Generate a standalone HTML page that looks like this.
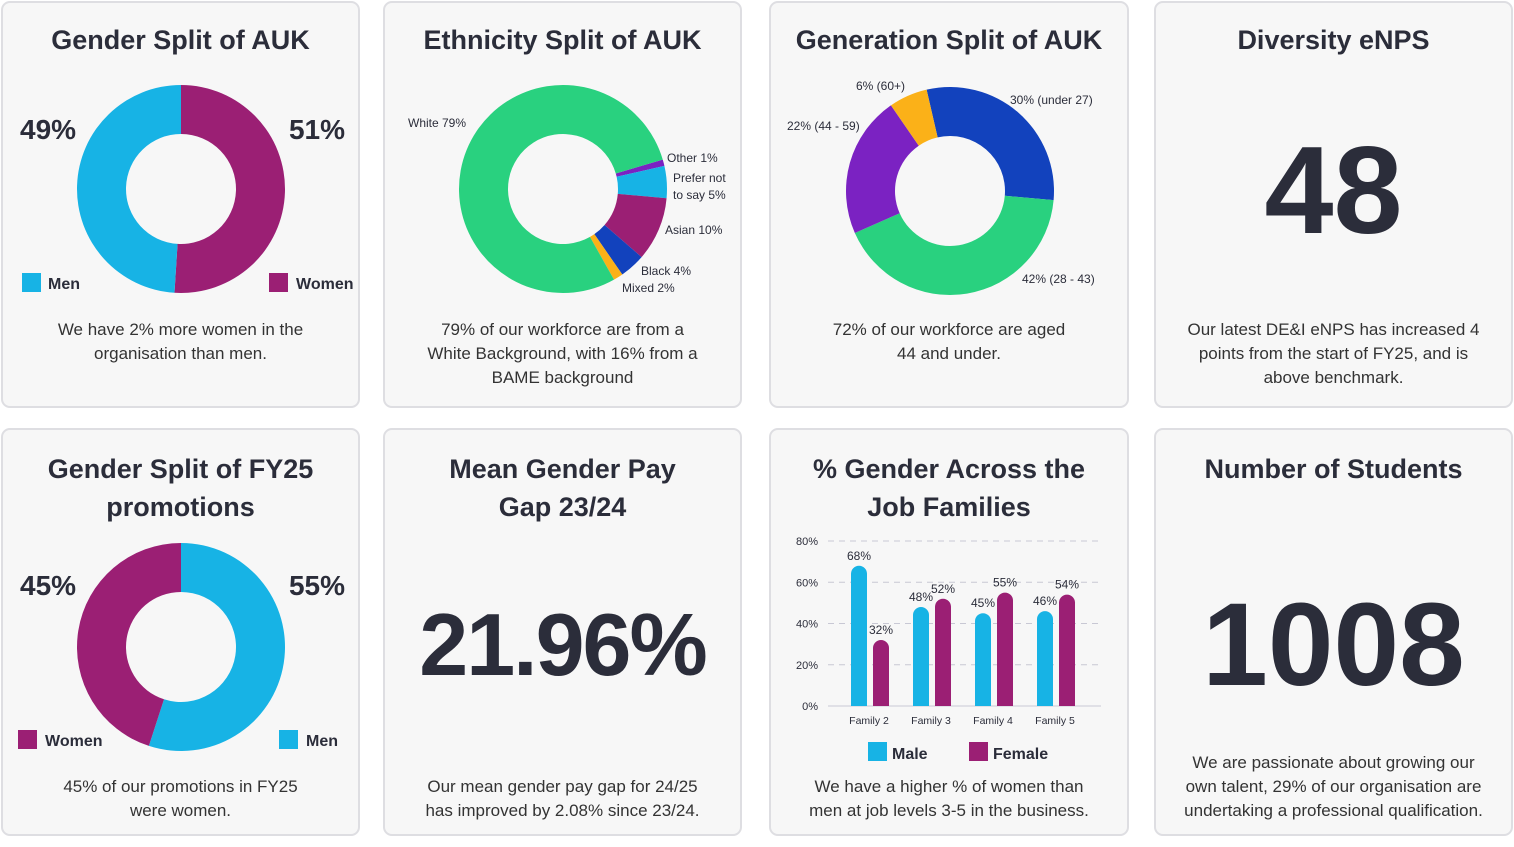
<!DOCTYPE html>
<html><head><meta charset="utf-8">
<style>
body{margin:0;width:1514px;height:847px;background:#fff;font-family:"Liberation Sans",sans-serif;color:#2b2d3a;position:relative;overflow:hidden}
.card{position:absolute;background:#f7f7f7;border:2px solid #dedee2;border-radius:9px;box-sizing:border-box}
.t{position:absolute;left:0;right:0;text-align:center;font-weight:bold;font-size:27px;line-height:38px}
.p{position:absolute;left:0;right:0;text-align:center;font-size:17px;line-height:24px;color:#333}
.big{position:absolute;left:0;right:0;text-align:center;font-weight:bold;color:#2b2d3a}
svg{position:absolute;left:0;top:0}
</style></head><body>
<div class="card" style="left:1px;top:1px;width:359px;height:407px">
 <div class="t" style="top:18px">Gender Split of AUK</div>
 <div class="p" style="top:315px">We have 2% more women in the<br>organisation than men.</div></div>
<div class="card" style="left:383px;top:1px;width:359px;height:407px">
 <div class="t" style="top:18px">Ethnicity Split of AUK</div>
 <div class="p" style="top:315px">79% of our workforce are from a<br>White Background, with 16% from a<br>BAME background</div></div>
<div class="card" style="left:769px;top:1px;width:360px;height:407px">
 <div class="t" style="top:18px">Generation Split of AUK</div>
 <div class="p" style="top:315px">72% of our workforce are aged<br>44 and under.</div></div>
<div class="card" style="left:1154px;top:1px;width:359px;height:407px">
 <div class="t" style="top:18px">Diversity eNPS</div>
 <div class="big" style="top:118px;font-size:124px;line-height:140px">48</div>
 <div class="p" style="top:315px">Our latest DE&amp;I eNPS has increased 4<br>points from the start of FY25, and is<br>above benchmark.</div></div>
<div class="card" style="left:1px;top:428px;width:359px;height:408px">
 <div class="t" style="top:20px">Gender Split of FY25<br>promotions</div>
 <div class="p" style="top:345px">45% of our promotions in FY25<br>were women.</div></div>
<div class="card" style="left:383px;top:428px;width:359px;height:408px">
 <div class="t" style="top:20px">Mean Gender Pay<br>Gap 23/24</div>
 <div class="big" style="top:160px;font-size:88px;line-height:110px;letter-spacing:-2px">21.96%</div>
 <div class="p" style="top:345px">Our mean gender pay gap for 24/25<br>has improved by 2.08% since 23/24.</div></div>
<div class="card" style="left:769px;top:428px;width:360px;height:408px">
 <div class="t" style="top:20px">% Gender Across the<br>Job Families</div>
 <div class="p" style="top:345px">We have a higher % of women than<br>men at job levels 3-5 in the business.</div></div>
<div class="card" style="left:1154px;top:428px;width:359px;height:408px">
 <div class="t" style="top:20px">Number of Students</div>
 <div class="big" style="top:150px;font-size:118px;line-height:130px">1008</div>
 <div class="p" style="top:321px">We are passionate about growing our<br>own talent, 29% of our organisation are<br>undertaking a professional qualification.</div></div>
<svg id="s" width="1514" height="847"></svg>
<script>
const genderVals=[51,49];const genderColors=['#9b1f74','#17b3e5'];
const ethLabels=['Other 1%','Prefer not to say 5%','Asian 10%','Black 4%','Mixed 2%','White 79%'];
const ethVals=[1,5,10,4,1.5,79];const ethColors=['#7b22c2','#17b3e5','#9b1f74','#1242bd','#fbb118','#29d17f'];
const genVals=[30,42,22,6];const genColors=['#1242bd','#29d17f','#7b22c2','#fbb118'];
const promoVals=[55,45];const promoColors=['#17b3e5','#9b1f74'];
const families=['Family 2','Family 3','Family 4','Family 5'];
const maleVals=[68,48,45,46];const femaleVals=[32,52,55,54];
const yTicks=[0,20,40,60,80];
const S=document.getElementById('s');const NS='http://www.w3.org/2000/svg';
function mk(tag,at,name){const e=document.createElementNS(NS,tag);for(const k in at)e.setAttribute(k,at[k]);


S.appendChild(e);return e;}
function txt(x,y,s,size,name,anchor,weight){const e=mk('text',{x:x,y:y,'font-size':size,fill:'#2b2d3a','text-anchor':anchor||'start','font-weight':weight||'normal','font-family':'Liberation Sans, sans-serif'},name);e.textContent=s;return e;}
function donut(cx,cy,R,r,vals,cols,startDeg,name){const tot=vals.reduce((a,b)=>a+b,0);let a=startDeg;
vals.forEach((v,i)=>{const b=a+v/tot*360;const p=(d,rad)=>{const t=(d-90)*Math.PI/180;return [cx+rad*Math.cos(t),cy+rad*Math.sin(t)];};
const L=(b-a)>180?1:0;const[p1,p2,p3,p4]=[p(a,R),p(b,R),p(b,r),p(a,r)];
mk('path',{d:`M${p1}A${R},${R} 0 ${L} 1 ${p2}L${p3}A${r},${r} 0 ${L} 0 ${p4}Z`,fill:cols[i]},name+'-slice-'+i);a=b;});}
donut(181,189,104,55,genderVals,genderColors,0,'gender-donut');
txt(20,139,'49%',28,'men-pct','start','bold');txt(345,139,'51%',28,'women-pct','end','bold');
mk('rect',{x:22,y:273,width:19,height:19,fill:'#17b3e5'},'legend-men-swatch');txt(48,289,'Men',16,'legend-men','start','bold');
mk('rect',{x:269,y:273,width:19,height:19,fill:'#9b1f74'},'legend-women-swatch');txt(296,289,'Women',16,'legend-women','start','bold');
donut(563,189,104,55,ethVals,ethColors,73.6,'ethnicity-donut');
txt(408,127,'White 79%',12,'label-white');txt(667,162,'Other 1%',12,'label-other');txt(673,182,'Prefer not',12,'label-prefer');txt(673,199,'to say 5%',12,'label-prefer2');
txt(665,234,'Asian 10%',12,'label-asian');txt(641,275,'Black 4%',12,'label-black');txt(622,292,'Mixed 2%',12,'label-mixed');
donut(950,191,104,55,genVals,genColors,-13,'generation-donut');
txt(856,90,'6% (60+)',12,'label-60plus');txt(1010,104,'30% (under 27)',12,'label-under27');txt(787,130,'22% (44 - 59)',12,'label-44-59');txt(1022,283,'42% (28 - 43)',12,'label-28-43');
donut(181,647,104,55,promoVals,promoColors,0,'promotions-donut');
txt(20,595,'45%',28,'promo-women-pct','start','bold');txt(345,595,'55%',28,'promo-men-pct','end','bold');
mk('rect',{x:18,y:730,width:19,height:19,fill:'#9b1f74'},'legend-promo-women-swatch');txt(45,746,'Women',16,'legend-promo-women','start','bold');
mk('rect',{x:279,y:730,width:19,height:19,fill:'#17b3e5'},'legend-promo-men-swatch');txt(306,746,'Men',16,'legend-promo-men','start','bold');
const y0=706,yTop=541,x0=828,x1=1101;const ys=v=>y0-(v/80)*(y0-yTop);const gx=i=>869+i*62;const bw=16;
yTicks.forEach(t=>{mk('line',{x1:x0,x2:x1,y1:ys(t),y2:ys(t),stroke:'#c8c8d4','stroke-dasharray':t?'6,5':'',
'stroke-width':1},'gridline-'+t);txt(818,ys(t)+4,t+'%',11,'y-tick-'+t,'end');});
function bar(x,v,c,name){const y=ys(v),h=y0-y,r=bw/2;mk('path',{d:`M${x},${y0}V${y+r}A${r},${r} 0 0 1 ${x+bw},${y+r}V${y0}Z`,fill:c},name);}
families.forEach((f,i)=>{const c=gx(i);bar(c-18,maleVals[i],'#17b3e5','bar-male-'+i);bar(c+4,femaleVals[i],'#9b1f74','bar-female-'+i);
txt(c-10,ys(maleVals[i])-6,maleVals[i]+'%',12,'value-male-'+i,'middle');txt(c+12,ys(femaleVals[i])-6,femaleVals[i]+'%',12,'value-female-'+i,'middle');
txt(c,724,f,10.5,'x-label-'+i,'middle');});
mk('rect',{x:868,y:742,width:19,height:19,fill:'#17b3e5'},'legend-male-swatch');txt(892,759,'Male',16,'legend-male','start','bold');
mk('rect',{x:969,y:742,width:19,height:19,fill:'#9b1f74'},'legend-female-swatch');txt(993,759,'Female',16,'legend-female','start','bold');
</script>
</body></html>
